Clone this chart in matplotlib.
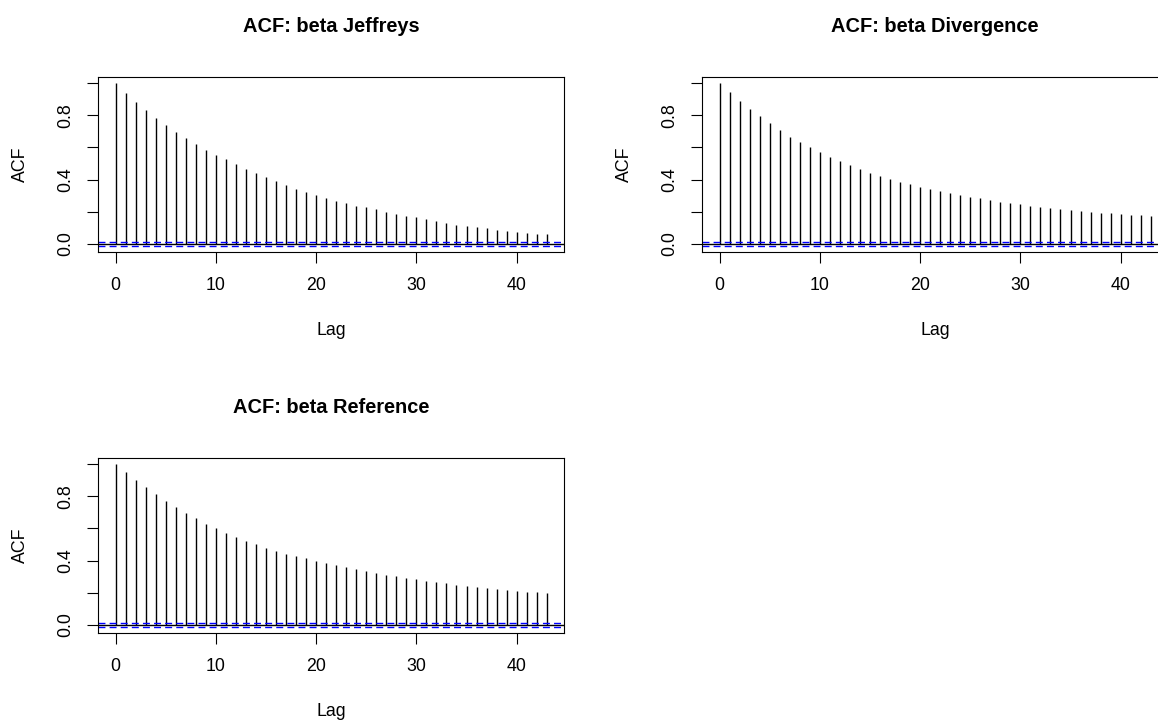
import numpy as np
import matplotlib
matplotlib.use("Agg")
import matplotlib.pyplot as plt

plt.rcParams["font.family"] = ["Liberation Sans", "DejaVu Sans"]

# autocorrelations of the beta chain, lags 0..43
lags = np.arange(44)

acf_jeffreys = [
    1.000, 0.942, 0.886, 0.834, 0.784, 0.738, 0.696, 0.657, 0.620, 0.586,
    0.555, 0.526, 0.497, 0.468, 0.441, 0.414, 0.389, 0.364, 0.343, 0.320,
    0.301, 0.285, 0.266, 0.252, 0.237, 0.227, 0.214, 0.200, 0.187, 0.175,
    0.164, 0.152, 0.139, 0.129, 0.119, 0.110, 0.102, 0.096, 0.087, 0.079,
    0.073, 0.067, 0.062, 0.058,
]

acf_divergence = [
    1.000, 0.944, 0.890, 0.842, 0.794, 0.753, 0.707, 0.667, 0.634, 0.601,
    0.570, 0.541, 0.516, 0.489, 0.466, 0.443, 0.422, 0.405, 0.387, 0.370,
    0.356, 0.341, 0.326, 0.314, 0.301, 0.291, 0.283, 0.272, 0.262, 0.254,
    0.245, 0.237, 0.229, 0.222, 0.214, 0.208, 0.204, 0.198, 0.193, 0.189,
    0.185, 0.181, 0.177, 0.173,
]

acf_reference = [
    1.000, 0.950, 0.902, 0.857, 0.813, 0.773, 0.732, 0.694, 0.663, 0.630,
    0.601, 0.574, 0.549, 0.524, 0.501, 0.480, 0.462, 0.443, 0.428, 0.414,
    0.399, 0.385, 0.370, 0.358, 0.345, 0.333, 0.322, 0.312, 0.301, 0.291,
    0.283, 0.274, 0.266, 0.258, 0.249, 0.241, 0.235, 0.229, 0.222, 0.216,
    0.212, 0.206, 0.202, 0.195,
]

# 95% white-noise band, 1.96 / sqrt(n)
clim = 0.0126

y_ticks = [0.0, 0.2, 0.4, 0.6, 0.8, 1.0]
y_tick_labels = ["0.0", "", "0.4", "", "0.8", ""]
x_ticks = [0, 10, 20, 30, 40]

FONT_SIZE = 12.8
TITLE_SIZE = 14.4
W, H = 1158, 721


def plot_acf_panel(fig, rect, values, title):
    ax = fig.add_axes(rect)
    values = np.asarray(values)

    ax.vlines(lags, 0, values, color="black", linewidth=1.0)
    ax.axhline(0, color="black", linewidth=1.0)
    for level in (clim, -clim):
        ax.axhline(level, color="#0000FF", linewidth=1.0,
                   linestyle=(0, (5, 3)))

    # R-style 4% padding on both axes
    x_span = lags.max() - lags.min()
    ax.set_xlim(lags.min() - 0.04 * x_span, lags.max() + 0.04 * x_span)
    y_lo, y_hi = -clim, max(1.0, values.max())
    y_span = y_hi - y_lo
    ax.set_ylim(y_lo - 0.04 * y_span, y_hi + 0.04 * y_span)

    ax.set_xticks(x_ticks)
    ax.set_yticks(y_ticks)
    ax.set_yticklabels(y_tick_labels, rotation=90, va="center")
    ax.tick_params(axis="both", length=8, width=0.8, labelsize=FONT_SIZE,
                   colors="black")
    ax.tick_params(axis="x", pad=10)
    ax.tick_params(axis="y", pad=9)
    for spine in ax.spines.values():
        spine.set_linewidth(0.8)

    ax.text(0.5, 1.285, title, transform=ax.transAxes, ha="center",
            va="center", fontsize=TITLE_SIZE, fontweight="bold")
    ax.text(0.5, -0.4425, "Lag", transform=ax.transAxes, ha="center",
            va="center", fontsize=FONT_SIZE)
    ax.text(-0.168, 0.5, "ACF", transform=ax.transAxes, ha="center",
            va="center", rotation=90, fontsize=FONT_SIZE)
    return ax


def px_rect(left, top, right, bottom):
    return [left / W, 1 - bottom / H, (right - left) / W, (bottom - top) / H]


fig = plt.figure(figsize=(W / 100, H / 100), dpi=100)

plot_acf_panel(fig, px_rect(98.3, 76.7, 564.0, 252.3),
               acf_jeffreys, "ACF: beta Jeffreys")
plot_acf_panel(fig, px_rect(702.3, 76.7, 1168.0, 252.3),
               acf_divergence, "ACF: beta Divergence")
plot_acf_panel(fig, px_rect(98.3, 457.7, 564.0, 633.3),
               acf_reference, "ACF: beta Reference")

fig.savefig("out.png", dpi=100)
plt.close(fig)
